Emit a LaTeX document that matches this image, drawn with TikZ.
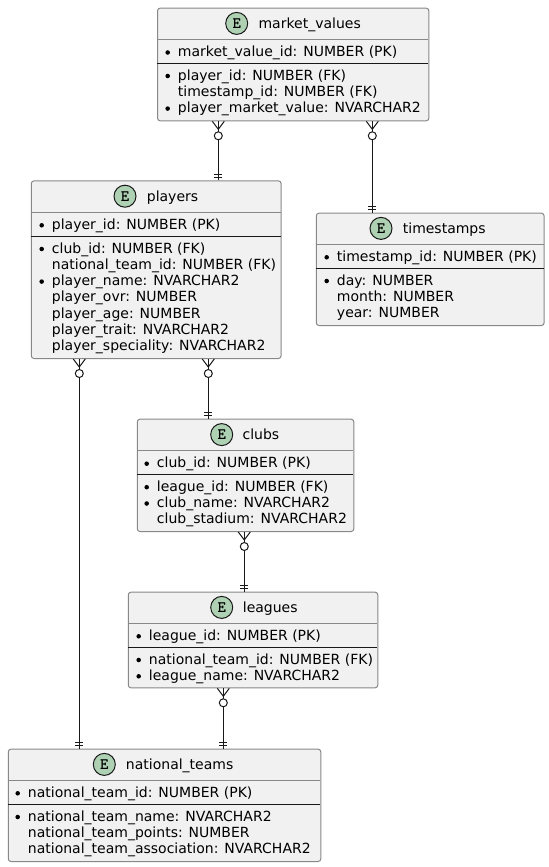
\documentclass[tikz,border=0pt]{standalone}
\usepackage{fontspec}
\setmainfont{DejaVu Sans}
\usetikzlibrary{calc}
\definecolor{boxfill}{HTML}{F1F1F1}
\definecolor{boxedge}{HTML}{888888}
\definecolor{iconfill}{HTML}{ADD1B2}
\definecolor{inkline}{HTML}{181818}
\tikzset{
	entitybox/.style={draw=boxedge, fill=boxfill, line width=0.75pt, rounded corners=2pt, anchor=north west, inner sep=0pt},
	iconmark/.style={circle, draw=inkline, fill=iconfill, line width=0.75pt, minimum size=16.5pt, inner sep=0pt, font=\ttfamily\bfseries\fontsize{12pt}{12pt}\selectfont},
	titlelabel/.style={anchor=base west, inner sep=0pt, font=\fontsize{10.5pt}{12pt}\selectfont},
	fieldlabel/.style={anchor=base west, inner sep=0pt, font=\fontsize{10.5pt}{12pt}\selectfont},
	linkline/.style={draw=inkline, line width=0.75pt},
}
% box (name)(left,top)(right,bottom) with its two inner rules
\def\entity(#1)(#2,#3)(#4,#5)(#6,#7){
	\path let \n1={(#4-#2)*0.75pt}, \n2={(#5-#3)*0.75pt} in
		node[entitybox, minimum width=\n1, minimum height=\n2] (#1) at (#2,#3) {};
	\draw[boxedge, line width=0.75pt] (#2,#6) -- (#4,#6);
	\draw[inkline, line width=0.75pt] (#2,#7) -- (#4,#7);
}
\def\field(#1)(#2,#3)#4{\node[fieldlabel] (#1) at (#2,#3) {#4};}
\def\reqfield(#1)(#2,#3)#4{
	\fill[black] ($(#2,#3)+(-10,-4)$) circle (1.7pt);
	\node[fieldlabel] (#1) at (#2,#3) {#4};
}
% connector from the many side (#1) to the one side (#2), at the height of coordinate #3
\def\erlink(#1)(#2)(#3){
	\coordinate (start) at (#1.south -| #3);
	\coordinate (stop) at (#2.north -| #3);
	\draw[linkline] (start) -- (stop);
	\draw[linkline] ($(start)+(-6,0)$) -- ($(start)+(0,8)$) -- ($(start)+(6,0)$);
	\draw[linkline, fill=white] ($(start)+(0,14.5)$) circle (3pt);
	\draw[linkline] ($(stop)+(-4,-6)$) -- ($(stop)+(4,-6)$);
	\draw[linkline] ($(stop)+(-4,-3)$) -- ($(stop)+(4,-3)$);
}
\begin{document}
\begin{tikzpicture}[x=0.75pt, y=-0.75pt]
	\useasboundingbox (0,0) rectangle (549,867);

	%%%%% market_values %%%%%
	\entity(mv)(157,7.7)(428.4,120.3)(39.3,63.3);
	\node[iconmark] (mvicon) at (236.7,23.4) {E};
	\node[titlelabel] (mvtitle) at (258.3,28.6) {market\_values};
	\reqfield(mv1)(177.7,56.5){market\_value\_id: NUMBER (PK)};
	\reqfield(mv2)(177.7,80){player\_id: NUMBER (FK)};
	\field(mv3)(177.7,96.3){timestamp\_id: NUMBER (FK)};
	\reqfield(mv4)(177.7,112.6){player\_market\_value: NVARCHAR2};

	%%%%% players %%%%%
	\entity(pl)(30.8,180.4)(280.6,358)(212.3,236.3);
	\node[iconmark] (plicon) at (125,196.2) {E};
	\node[titlelabel] (pltitle) at (146.6,201.4) {players};
	\reqfield(pl1)(51.7,229.3){player\_id: NUMBER (PK)};
	\reqfield(pl2)(51.7,253){club\_id: NUMBER (FK)};
	\field(pl3)(51.7,269.3){national\_team\_id: NUMBER (FK)};
	\reqfield(pl4)(51.7,285.6){player\_name: NVARCHAR2};
	\field(pl5)(51.7,301.9){player\_ovr: NUMBER};
	\field(pl6)(51.7,318.2){player\_age: NUMBER};
	\field(pl7)(51.7,334.5){player\_trait: NVARCHAR2};
	\field(pl8)(51.7,350.8){player\_speciality: NVARCHAR2};

	%%%%% timestamps %%%%%
	\entity(ts)(315.8,212.7)(543.6,325)(244.3,268.3);
	\node[iconmark] (tsicon) at (381,228.4) {E};
	\node[titlelabel] (tstitle) at (402.6,233.6) {timestamps};
	\reqfield(ts1)(336.7,261.3){timestamp\_id: NUMBER (PK)};
	\reqfield(ts2)(336.7,285){day: NUMBER};
	\field(ts3)(336.7,301.3){month: NUMBER};
	\field(ts4)(336.7,317.6){year: NUMBER};

	%%%%% clubs %%%%%
	\entity(cl)(136.8,418.7)(353.3,531)(450.7,474.4);
	\node[iconmark] (clicon) at (221.7,434.6) {E};
	\node[titlelabel] (cltitle) at (242.3,439.8) {clubs};
	\reqfield(cl1)(156.7,467.7){club\_id: NUMBER (PK)};
	\reqfield(cl2)(156.7,491.2){league\_id: NUMBER (FK)};
	\reqfield(cl3)(156.7,507.5){club\_name: NVARCHAR2};
	\field(cl4)(156.7,523.8){club\_stadium: NVARCHAR2};

	%%%%% leagues %%%%%
	\entity(lg)(127.8,591.7)(377.3,687.3)(623.3,647.3);
	\node[iconmark] (lgicon) at (221.7,607.4) {E};
	\node[titlelabel] (lgtitle) at (242.6,612.6) {leagues};
	\reqfield(lg1)(148.7,640.3){league\_id: NUMBER (PK)};
	\reqfield(lg2)(148.7,664){national\_team\_id: NUMBER (FK)};
	\reqfield(lg3)(148.7,680.3){league\_name: NVARCHAR2};

	%%%%% national_teams %%%%%
	\entity(nt)(7.8,748.7)(320.3,861)(780.3,804.3);
	\node[iconmark] (nticon) at (104.3,764.4) {E};
	\node[titlelabel] (nttitle) at (125.7,769.6) {national\_teams};
	\reqfield(nt1)(27.7,797.3){national\_team\_id: NUMBER (PK)};
	\reqfield(nt2)(27.7,821){national\_team\_name: NVARCHAR2};
	\field(nt3)(27.7,837.3){national\_team\_points: NUMBER};
	\field(nt4)(27.7,853.6){national\_team\_association: NVARCHAR2};

	%%%%% links %%%%%
	\coordinate (mvpl) at (218.3,0);
	\coordinate (mvts) at (372.3,0);
	\coordinate (plnt) at (79.3,0);
	\coordinate (plcl) at (208.3,0);
	\coordinate (cllg) at (244.3,0);
	\coordinate (lgnt) at (223.3,0);
	\erlink(mv)(pl)(mvpl);
	\erlink(mv)(ts)(mvts);
	\erlink(pl)(nt)(plnt);
	\erlink(pl)(cl)(plcl);
	\erlink(cl)(lg)(cllg);
	\erlink(lg)(nt)(lgnt);
\end{tikzpicture}
\end{document}
